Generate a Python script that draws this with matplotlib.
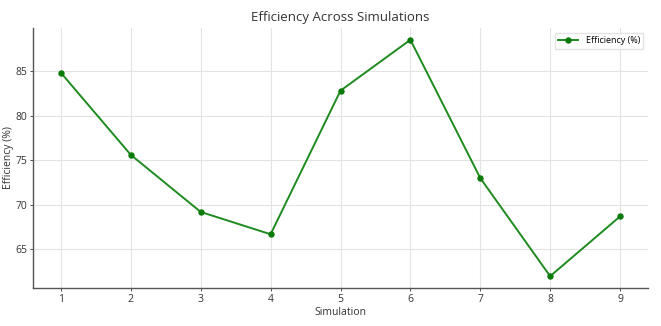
import matplotlib
matplotlib.use("Agg")
import matplotlib.pyplot as plt

simulations = [1, 2, 3, 4, 5, 6, 7, 8, 9]
efficiency = [84.8, 75.6, 69.2, 66.7, 82.8, 88.5, 73.0, 62.0, 68.7]

plt.rcParams['font.family'] = ['Open Sans', 'DejaVu Sans']

fig = plt.figure(figsize=(6.61, 3.26), dpi=100)
ax = fig.add_axes([33/661, 1 - 288/326, (648-33)/661, (288-28)/326])
ax.plot(simulations, efficiency, color='#1f8a1f', marker='o', markersize=3.6,
        linewidth=1.4, markerfacecolor='#0a7a0a', markeredgecolor='#0a7a0a',
        label='Efficiency (%)')
ax.set_title('Efficiency Across Simulations', fontsize=9.5, color='#333333', pad=5)
ax.set_xlabel('Simulation', fontsize=7.5, color='#333333', labelpad=2)
ax.set_ylabel('Efficiency (%)', fontsize=7.5, color='#333333', labelpad=1)
ax.set_xticks(simulations)
ax.tick_params(labelsize=7.5, colors='#333333', length=2, width=0.6, pad=2)
ax.grid(True, color='#e3e3e3', linewidth=0.8)
ax.set_axisbelow(True)
for s in ['top', 'right']:
    ax.spines[s].set_visible(False)
for s in ['left', 'bottom']:
    ax.spines[s].set_color('#555555')
    ax.spines[s].set_linewidth(1.0)
leg = ax.legend(loc='upper right', fontsize=6.5, frameon=True, fancybox=False,
                edgecolor='#dddddd', handlelength=2.2)
fig.savefig('out.png', dpi=100)
